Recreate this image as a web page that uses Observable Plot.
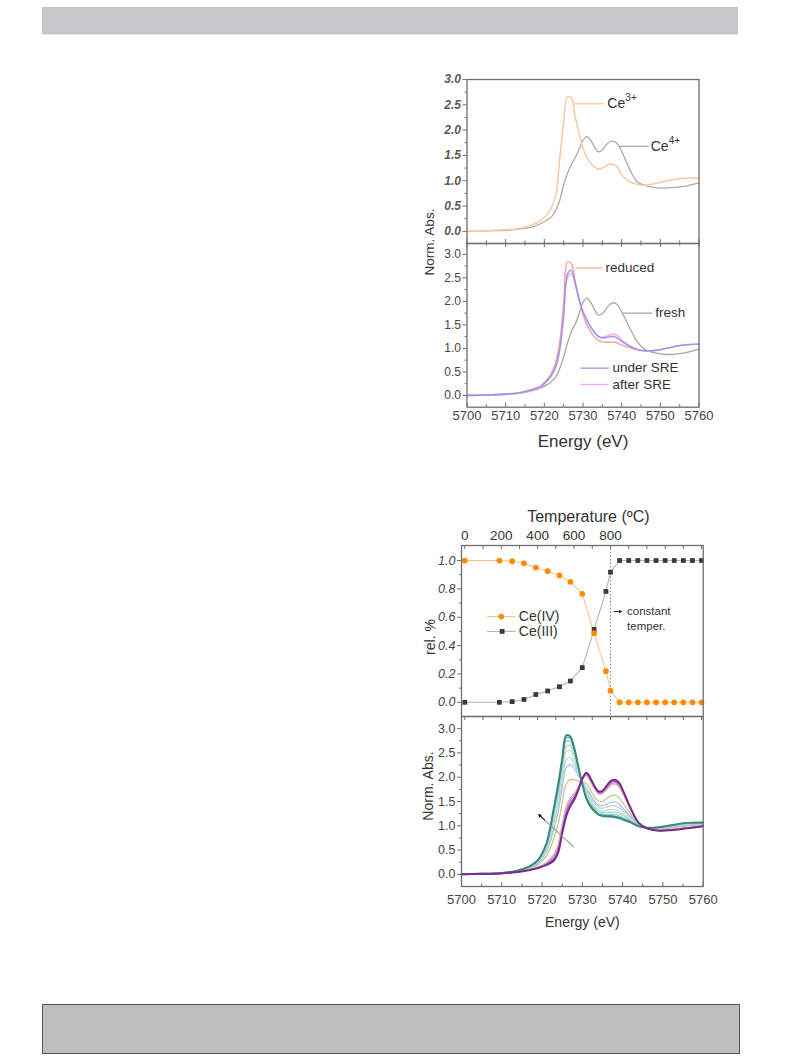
<!DOCTYPE html>
<html>
<head>
<meta charset="utf-8">
<script src="https://cdn.jsdelivr.net/npm/d3@7"></script>
<script src="https://cdn.jsdelivr.net/npm/@observablehq/plot@0.6"></script>
<style>
  body { margin: 0; background: #fff; }
  #page { position: relative; width: 793px; height: 1057px; overflow: hidden; font-family: 'Liberation Sans', Arial, Helvetica, sans-serif; }
  .topbar { position: absolute; left: 42px; top: 7px; width: 696px; height: 27px; background: #c6c7ca; border-bottom: 1px solid #e2e2e2; }
  .botbox { position: absolute; left: 42px; top: 1004px; width: 696px; height: 48px; background: #bfbfbf; border: 1px solid #555; }
  .ylab { position: absolute; white-space: nowrap; color: #333; transform: translate(-50%, -50%) rotate(-90deg); }
</style>
</head>
<body>
<div id="page">
  <div class="topbar"></div>
  <div class="botbox"></div>
  <div class="ylab" style="left:429px; top:242px; font-size:13.5px;">Norm. Abs.</div>
  <div class="ylab" style="left:430px; top:637px; font-size:14px;">rel. %</div>
  <div class="ylab" style="left:427.5px; top:786px; font-size:14px;">Norm. Abs.</div>
</div>
<script>
// ---------------- DATA ----------------
const energy = [5700,5705,5710,5714,5717,5719,5721,5722,5723,5724,5725,5726,5727,5728,5729,5730,5731,5732,5733,5734,5735,5736,5737,5738,5739,5740,5742,5744,5746,5749,5752,5756,5760];

// Figure 1, upper: reference compounds
const ce3Ref = [0.00,0.01,0.03,0.06,0.13,0.21,0.36,0.50,0.72,1.45,2.15,2.66,2.63,2.25,1.93,1.65,1.46,1.35,1.27,1.23,1.25,1.30,1.33,1.32,1.26,1.12,0.98,0.93,0.91,0.95,1.00,1.05,1.05];
const ce4Ref = [0.00,0.01,0.02,0.05,0.09,0.15,0.24,0.30,0.42,0.62,0.92,1.15,1.32,1.46,1.62,1.80,1.87,1.80,1.66,1.57,1.61,1.71,1.77,1.78,1.72,1.58,1.24,0.98,0.91,0.86,0.86,0.89,0.96];

// Figure 1, lower: samples
const reduced  = [0.00,0.01,0.03,0.07,0.14,0.20,0.37,0.50,0.72,1.15,1.95,2.84,2.80,2.42,2.02,1.72,1.50,1.36,1.24,1.17,1.14,1.13,1.13,1.13,1.11,1.07,1.02,0.97,0.95,0.96,1.01,1.08,1.09];
const fresh    = [0.00,0.01,0.02,0.05,0.10,0.16,0.24,0.31,0.40,0.58,0.82,1.12,1.36,1.52,1.74,1.98,2.07,1.98,1.82,1.71,1.74,1.84,1.94,1.97,1.92,1.78,1.45,1.15,0.98,0.90,0.87,0.90,0.99];
const underSRE = [0.00,0.01,0.03,0.06,0.13,0.19,0.34,0.45,0.63,1.00,1.72,2.58,2.66,2.38,2.05,1.78,1.60,1.45,1.33,1.25,1.22,1.23,1.25,1.25,1.21,1.15,1.05,0.98,0.95,0.96,1.01,1.07,1.09];
const afterSRE = [0.00,0.01,0.03,0.06,0.12,0.18,0.33,0.44,0.61,0.96,1.66,2.50,2.59,2.35,2.04,1.78,1.61,1.47,1.35,1.26,1.24,1.26,1.29,1.30,1.26,1.18,1.06,0.98,0.95,0.96,1.01,1.07,1.09];

// Figure 2, upper: Ce(IV)/Ce(III) fractions vs temperature (positions beyond 800 = constant temperature)
const tempPos = [0,190,260,325,390,455,520,580,645,710,775,800,850,900,950,1000,1050,1100,1150,1200,1250,1300];
const ceIV  = [1.00,1.00,0.995,0.98,0.95,0.925,0.895,0.85,0.765,0.488,0.22,0.082,0,0,0,0,0,0,0,0,0,0];
const ceIII = [0.00,0.00,0.005,0.02,0.055,0.08,0.11,0.15,0.245,0.514,0.782,0.918,1,1,1,1,1,1,1,1,1,1];
const tempTickLabels = [0,200,400,600,800];

// Figure 2, lower: in-situ scans (first = fresh Ce4+, last = fully reduced Ce3+)
const scan01 = [0.00,0.01,0.02,0.05,0.09,0.13,0.19,0.23,0.29,0.45,0.85,1.20,1.40,1.54,1.74,1.97,2.09,1.98,1.82,1.71,1.72,1.82,1.92,1.95,1.90,1.74,1.36,1.06,0.95,0.90,0.91,0.95,0.99];
const scan02 = [0.00,0.01,0.02,0.05,0.09,0.14,0.21,0.26,0.33,0.51,0.91,1.27,1.46,1.58,1.76,1.97,2.07,1.96,1.80,1.69,1.70,1.80,1.89,1.92,1.87,1.72,1.35,1.06,0.95,0.90,0.91,0.95,0.99];
const scan03 = [0.00,0.01,0.02,0.05,0.10,0.14,0.22,0.29,0.38,0.56,0.97,1.33,1.52,1.62,1.78,1.96,2.05,1.93,1.78,1.67,1.68,1.77,1.86,1.89,1.84,1.69,1.34,1.05,0.95,0.91,0.92,0.96,0.99];
const scan04 = [0.00,0.01,0.02,0.05,0.10,0.15,0.24,0.32,0.42,0.62,1.03,1.40,1.57,1.67,1.80,1.96,2.03,1.91,1.76,1.65,1.66,1.74,1.83,1.86,1.81,1.67,1.33,1.05,0.95,0.91,0.92,0.96,1.00];
const scan05 = [0.00,0.01,0.02,0.06,0.12,0.20,0.37,0.53,0.76,1.04,1.47,1.86,1.95,1.95,1.92,1.91,1.87,1.74,1.60,1.51,1.50,1.56,1.61,1.63,1.59,1.48,1.24,1.03,0.95,0.93,0.95,1.00,1.02];
const scan06 = [0.00,0.01,0.03,0.07,0.14,0.23,0.45,0.66,0.96,1.29,1.77,2.20,2.26,2.18,2.03,1.90,1.77,1.63,1.51,1.42,1.41,1.44,1.48,1.49,1.46,1.37,1.19,1.02,0.96,0.94,0.97,1.02,1.04];
const scan07 = [0.00,0.01,0.03,0.07,0.15,0.25,0.49,0.73,1.07,1.43,1.92,2.36,2.41,2.28,2.08,1.89,1.72,1.57,1.46,1.37,1.36,1.38,1.41,1.41,1.38,1.31,1.16,1.01,0.96,0.95,0.98,1.03,1.05];
const scan08 = [0.00,0.01,0.03,0.07,0.15,0.27,0.53,0.81,1.18,1.57,2.07,2.53,2.55,2.39,2.12,1.88,1.67,1.52,1.40,1.33,1.30,1.32,1.34,1.33,1.31,1.25,1.13,1.00,0.96,0.96,0.99,1.04,1.05];
const scan09 = [0.00,0.01,0.03,0.08,0.16,0.28,0.56,0.86,1.26,1.67,2.18,2.64,2.65,2.46,2.16,1.87,1.63,1.48,1.37,1.29,1.27,1.27,1.28,1.28,1.26,1.21,1.11,1.00,0.96,0.96,1.00,1.05,1.06];
const scan10 = [0.00,0.01,0.03,0.08,0.16,0.29,0.59,0.90,1.32,1.75,2.27,2.74,2.74,2.53,2.19,1.87,1.60,1.44,1.34,1.26,1.24,1.23,1.24,1.23,1.21,1.17,1.09,0.99,0.96,0.97,1.00,1.05,1.06];
const scan11 = [0.00,0.01,0.03,0.08,0.17,0.29,0.61,0.93,1.37,1.81,2.33,2.81,2.80,2.57,2.21,1.86,1.58,1.42,1.32,1.24,1.22,1.21,1.21,1.20,1.18,1.15,1.08,0.99,0.96,0.97,1.01,1.06,1.07];
const scan12 = [0.00,0.01,0.03,0.08,0.17,0.30,0.62,0.95,1.40,1.85,2.38,2.86,2.84,2.60,2.22,1.86,1.56,1.40,1.30,1.23,1.20,1.19,1.19,1.18,1.16,1.13,1.07,0.99,0.96,0.97,1.01,1.06,1.07];

// annotation anchors (data coordinates)
const notesA = [
  {x1: 5727.6, x2: 5735.4, y: 2.52, text: "Ce", sup: "3+", tx: 5736.3, color: "#f8c9a0"},
  {x1: 5739.3, x2: 5747.0, y: 1.68, text: "Ce", sup: "4+", tx: 5747.5, color: "#b0b0b0"}
];
const notesB = [
  {x1: 5728.1, x2: 5735.0, y: 2.71, text: "reduced", tx: 5735.8, color: "#f5a29e"},
  {x1: 5740.1, x2: 5747.9, y: 1.75, text: "fresh", tx: 5748.7, color: "#a8a8a8"},
  {x1: 5729.4, x2: 5736.6, y: 0.58, text: "under SRE", tx: 5737.6, color: "#9696f2"},
  {x1: 5729.4, x2: 5736.6, y: 0.233, text: "after SRE", tx: 5737.6, color: "#f4a4f2"}
];
const legendC = [
  {label: "Ce(IV)", y: 0.605, x1: 123, x2: 278, xm: 200, tx: 297},
  {label: "Ce(III)", y: 0.50, x1: 123, x2: 278, xm: 205, tx: 297}
];
const noteC = {lines: ["constant", "temper."], ys: [0.64, 0.535], tx: 891, ax1: 820, ax2: 860};
const arrowD = {x1: 5727.9, y1: 0.56, x2: 5719.2, y2: 1.23, hx: 5720.6, hy: 1.12};

// ---------------- DRAWING ----------------
const page = document.getElementById("page");
function put(node, left, top) {
  node.style.position = "absolute";
  node.style.left = left + "px";
  node.style.top = top + "px";
  page.appendChild(node);
}
const FONT = "'Liberation Sans', Arial, Helvetica, sans-serif";
const baseStyle = {fontFamily: FONT, fontSize: "12px", color: "#444", background: "none", overflow: "visible"};
const FRAME = "#6e6e6e";
const rows = ys => energy.map((E, i) => ({E, v: ys[i]}));
const steps = (a, b, s) => d3.range(0, Math.round((b - a) / s) + 1).map(i => +(a + i * s).toFixed(6));
const fmt1 = d3.format(".1f");

function edgeTicks(values, yEdge, len) {
  return Plot.ruleX(values, {x: d => d, y1: yEdge, y2: yEdge + len, stroke: FRAME, strokeWidth: 1});
}
function perPx(dom, px) { return (dom[1] - dom[0]) / px; }

const eMaj = steps(5700, 5760, 10), eMin = steps(5705, 5755, 10);

// ---- Figure 1 upper ----
{
  const H = 185, mt = 19, mb = 2;
  const yd = [-0.24, 3.0];
  const k = perPx(yd, H - mt - mb);
  const p = Plot.plot({
    width: 310, height: H, marginLeft: 66.5, marginRight: 11.5, marginTop: mt, marginBottom: mb,
    style: baseStyle,
    x: {domain: [5700, 5760], axis: null},
    y: {domain: yd, axis: null},
    marks: [
      Plot.axisY({ticks: steps(0, 3, 0.5), tickSize: 4, tickPadding: 2, tickFormat: fmt1, label: null, fontSize: 12, fontStyle: "italic", fontWeight: "bold", fill: "#5a5a5a", stroke: FRAME}),
      Plot.axisY({ticks: steps(0.25, 2.75, 0.5), tickSize: 2, tickFormat: () => "", label: null, stroke: FRAME}),
      edgeTicks(eMaj, yd[0], 4 * k),
      edgeTicks(eMin, yd[0], 2.5 * k),
      Plot.line(rows(ce4Ref), {x: "E", y: "v", stroke: "#ababab", strokeWidth: 1.3, curve: "catmull-rom"}),
      Plot.line(rows(ce3Ref), {x: "E", y: "v", stroke: "#f8c9a0", strokeWidth: 1.5, curve: "catmull-rom"}),
      Plot.link(notesA, {x1: "x1", x2: "x2", y1: "y", y2: "y", stroke: "color", strokeWidth: 1.3}),
      Plot.text(notesA, {x: "tx", y: "y", text: "text", textAnchor: "start", lineAnchor: "middle", fontSize: 14, fill: "#333"}),
      Plot.text(notesA, {x: "tx", y: "y", text: "sup", textAnchor: "start", lineAnchor: "middle", fontSize: 10, dx: 18, dy: -6, fill: "#333"}),
      Plot.frame({stroke: FRAME, strokeWidth: 1.3})
    ]
  });
  put(p, 400, 60);
}

// ---- Figure 1 lower ----
{
  const H = 220, mt = 3, mb = 53.3;
  const yd = [-0.25, 3.23];
  const k = perPx(yd, H - mt - mb);
  const p = Plot.plot({
    width: 310, height: H, marginLeft: 66.5, marginRight: 11.5, marginTop: mt, marginBottom: mb,
    style: baseStyle,
    x: {domain: [5700, 5760], axis: null},
    y: {domain: yd, axis: null},
    marks: [
      Plot.axisY({ticks: steps(0, 3, 0.5), tickSize: 4, tickPadding: 2, tickFormat: fmt1, label: null, fontSize: 12, fill: "#444", stroke: FRAME}),
      Plot.axisY({ticks: steps(0.25, 2.75, 0.5), tickSize: 2, tickFormat: () => "", label: null, stroke: FRAME}),
      Plot.axisX({ticks: eMaj, tickSize: 0, tickPadding: 4, tickFormat: d => String(d), label: null, fontSize: 13, fill: "#444"}),
      edgeTicks(eMaj, yd[0], 4 * k),
      edgeTicks(eMin, yd[0], 2.5 * k),
      edgeTicks(eMaj, yd[1], -4 * k),
      edgeTicks(eMin, yd[1], -2.5 * k),
      Plot.line(rows(fresh), {x: "E", y: "v", stroke: "#a8a8a8", strokeWidth: 1.3, curve: "catmull-rom"}),
      Plot.line(rows(reduced), {x: "E", y: "v", stroke: "#f5a29e", strokeWidth: 1.4, curve: "catmull-rom"}),
      Plot.line(rows(afterSRE), {x: "E", y: "v", stroke: "#f4a4f2", strokeWidth: 1.4, curve: "catmull-rom"}),
      Plot.line(rows(underSRE), {x: "E", y: "v", stroke: "#9696f2", strokeWidth: 1.4, curve: "catmull-rom"}),
      Plot.link(notesB, {x1: "x1", x2: "x2", y1: "y", y2: "y", stroke: "color", strokeWidth: 1.3}),
      Plot.text(notesB, {x: "tx", y: "y", text: "text", textAnchor: "start", lineAnchor: "middle", fontSize: 13.5, fill: "#333"}),
      Plot.text(["Energy (eV)"], {frameAnchor: "bottom", lineAnchor: "middle", dy: 34, fontSize: 17, fill: "#333"}),
      Plot.frame({stroke: FRAME, strokeWidth: 1.3})
    ]
  });
  put(p, 400, 240);
}

// ---- Figure 2 upper ----
{
  const H = 218, mt = 45, mb = 2;
  const xd = [-18, 1309], yd = [-0.1, 1.106];
  const k = perPx(yd, H - mt - mb);
  const tData = tempPos.map((t, i) => ({t, iv: ceIV[i], iii: ceIII[i]}));
  const tTicks = steps(0, 1300, 100);
  const p = Plot.plot({
    width: 310, height: H, marginLeft: 61, marginRight: 7.3, marginTop: mt, marginBottom: mb,
    style: baseStyle,
    x: {domain: xd, axis: null},
    y: {domain: yd, axis: null},
    marks: [
      Plot.axisY({ticks: steps(0, 1, 0.2), tickSize: 4, tickPadding: 2, tickFormat: fmt1, label: null, fontSize: 12.5, fontStyle: "italic", fill: "#444", stroke: FRAME}),
      Plot.axisY({ticks: steps(0.1, 0.9, 0.2), tickSize: 2, tickFormat: () => "", label: null, stroke: FRAME}),
      Plot.axisX({anchor: "top", ticks: tempTickLabels, tickSize: 0, tickPadding: 6, tickFormat: d => String(d), label: null, fontSize: 13.5, fill: "#333"}),
      Plot.text(["Temperature (ºC)"], {frameAnchor: "top", lineAnchor: "middle", dx: 6, dy: -29, fontSize: 16, fill: "#333"}),
      edgeTicks(tTicks, yd[1], -4 * k),
      edgeTicks(tTicks, yd[0], -4 * k),
      Plot.ruleX([800], {stroke: "#8a8a8a", strokeWidth: 1, strokeDasharray: "1.5,2"}),
      Plot.line(tData, {x: "t", y: "iii", stroke: "#b4b4b4", strokeWidth: 1.1}),
      Plot.line(tData, {x: "t", y: "iv", stroke: "#f9c48c", strokeWidth: 1.1}),
      Plot.dot(tData, {x: "t", y: "iii", symbol: "square", r: 2.7, fill: "#3a3a3a"}),
      Plot.dot(tData, {x: "t", y: "iv", symbol: "circle", r: 2.9, fill: "#ff8a00"}),
      Plot.link(legendC, {x1: "x1", x2: "x2", y1: "y", y2: "y", stroke: (d, i) => i === 0 ? "#f9c48c" : "#b4b4b4", strokeWidth: 1.1}),
      Plot.dot(legendC.slice(0, 1), {x: "xm", y: "y", symbol: "circle", r: 2.9, fill: "#ff8a00"}),
      Plot.dot(legendC.slice(1), {x: "xm", y: "y", symbol: "square", r: 2.7, fill: "#3a3a3a"}),
      Plot.text(legendC, {x: "tx", y: "y", text: "label", textAnchor: "start", lineAnchor: "middle", fontSize: 14, fill: "#333"}),
      Plot.arrow([noteC], {x1: "ax1", x2: "ax2", y1: () => noteC.ys[0], y2: () => noteC.ys[0], stroke: "#222", strokeWidth: 1, headLength: 5}),
      Plot.text(noteC.lines.map((s, i) => ({s, y: noteC.ys[i]})), {x: () => noteC.tx, y: "y", text: "s", textAnchor: "start", lineAnchor: "middle", fontSize: 11.5, fill: "#333"}),
      Plot.frame({stroke: FRAME, strokeWidth: 1.3})
    ]
  });
  put(p, 400, 500);
}

// ---- Figure 2 lower ----
{
  const H = 226, mt = 2, mb = 54;
  const yd = [-0.25, 3.25];
  const k = perPx(yd, H - mt - mb);
  const scans = [scan01, scan02, scan03, scan04, scan05, scan06, scan07, scan08, scan09, scan10, scan11, scan12];
  const scanColors = ["#7a2a8e", "#9b4aa8", "#bb80bd", "#dca9b4", "#c4c47e", "#9fbfe6", "#b5cfec", "#bedcb8", "#a2d8c8", "#86cdd0", "#5aaca5", "#3a897f"];
  const order = [1, 2, 3, 4, 5, 6, 7, 8, 9, 10, 11, 0];
  const p = Plot.plot({
    width: 310, height: H, marginLeft: 61, marginRight: 7.3, marginTop: mt, marginBottom: mb,
    style: baseStyle,
    x: {domain: [5700, 5760], axis: null},
    y: {domain: yd, axis: null},
    marks: [
      Plot.axisY({ticks: steps(0, 3, 0.5), tickSize: 4, tickPadding: 2, tickFormat: fmt1, label: null, fontSize: 12.5, fill: "#444", stroke: FRAME}),
      Plot.axisY({ticks: steps(0.25, 2.75, 0.5), tickSize: 2, tickFormat: () => "", label: null, stroke: FRAME}),
      Plot.axisX({ticks: eMaj, tickSize: 0, tickPadding: 8, tickFormat: d => String(d), label: null, fontSize: 13, fill: "#444"}),
      edgeTicks(eMaj, yd[0], 4 * k),
      edgeTicks(eMin, yd[0], 2.5 * k),
      ...order.map(i => Plot.line(rows(scans[i]), {x: "E", y: "v", stroke: scanColors[i], strokeWidth: (i === 0 || i === 11) ? 2 : 1.2, curve: "catmull-rom"})),
      Plot.link([arrowD], {x1: "x1", y1: "y1", x2: "x2", y2: "y2", stroke: "#9a9a9a", strokeWidth: 1.1}),
      Plot.arrow([arrowD], {x1: "hx", y1: "hy", x2: "x2", y2: "y2", stroke: "#222", strokeWidth: 1.1, headLength: 6}),
      Plot.text(["Energy (eV)"], {frameAnchor: "bottom", lineAnchor: "middle", dy: 36.5, fontSize: 14, fill: "#333"}),
      Plot.frame({stroke: FRAME, strokeWidth: 1.3})
    ]
  });
  put(p, 400, 714);
}
</script>
</body>
</html>
